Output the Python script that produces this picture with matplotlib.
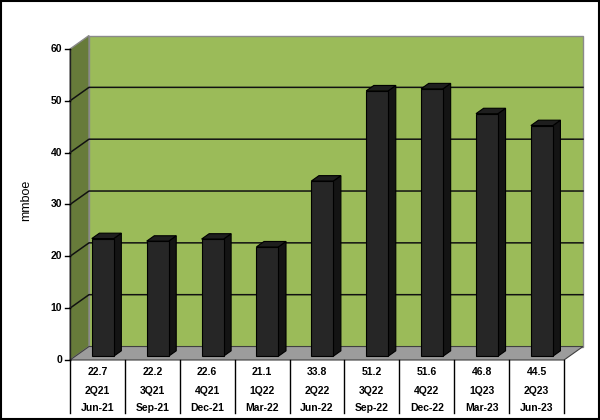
import numpy as np
import matplotlib.pyplot as plt
from matplotlib.patches import Polygon, Rectangle

plt.rcParams['font.family'] = ['Liberation Sans', 'DejaVu Sans']

# data
values = [22.7, 22.2, 22.6, 21.1, 33.8, 51.2, 51.6, 46.8, 44.5]
quarters = ['2Q21', '3Q21', '4Q21', '1Q22', '2Q22', '3Q22', '4Q22', '1Q23', '2Q23']
months = ['Jun-21', 'Sep-21', 'Dec-21', 'Mar-22', 'Jun-22', 'Sep-22', 'Dec-22', 'Mar-23', 'Jun-23']
y_ticks = [0, 10, 20, 30, 40, 50, 60]

n = len(values)
ymax = 60
DX, DY = 0.346, 2.6        # depth offset of the 3d box (data units)
f0, bd = 0.28, 0.4         # bar front depth fraction, bar depth fraction
bw = 0.40                  # bar width

wall = '#9bbb59'
side = '#677b3a'
floor = '#9c9c9c'

fig = plt.figure(figsize=(6, 4.2), dpi=100)
ax = fig.add_axes([0, 0, 1, 1])
ax.set_xlim(-1.7753, 9.1559)
ax.set_ylim(-11.576, 69.453)
ax.axis('off')

x0, x1 = -0.5, n - 0.5

# back wall
ax.add_patch(Polygon([(x0 + DX, DY), (x1 + DX, DY), (x1 + DX, ymax + DY), (x0 + DX, ymax + DY)],
                     closed=True, facecolor=wall, edgecolor='#8a8a8a', lw=1, zorder=1))
# side wall
ax.add_patch(Polygon([(x0, 0), (x0 + DX, DY), (x0 + DX, ymax + DY), (x0, ymax)],
                     closed=True, facecolor=side, edgecolor='#8a8a8a', lw=1, zorder=1))
# gridlines (top one is just the wall edge)
for t in y_ticks[1:-1]:
    ax.plot([x0, x0 + DX, x1 + DX], [t, t + DY, t + DY], color='#111111', lw=1.1, zorder=2)
# floor
ax.add_patch(Polygon([(x0, 0), (x1, 0), (x1 + DX, DY), (x0 + DX, DY)],
                     closed=True, facecolor=floor, edgecolor='#404040', lw=0.8, zorder=3))

# bars
xs = np.arange(n) + f0 * DX
base = f0 * DY
ax.bar(xs, values, width=bw, bottom=base, color='#262626', edgecolor='black', lw=0.8, zorder=5)
for x, v in zip(xs, values):
    xl, xr, top = x - bw / 2, x + bw / 2, v + base
    ax.add_patch(Polygon([(xr, base), (xr + bd * DX, base + bd * DY), (xr + bd * DX, top + bd * DY), (xr, top)],
                         closed=True, facecolor='#141414', edgecolor='black', lw=0.8, zorder=4))
    ax.add_patch(Polygon([(xl, top), (xr, top), (xr + bd * DX, top + bd * DY), (xl + bd * DX, top + bd * DY)],
                         closed=True, facecolor='#1e1e1e', edgecolor='black', lw=0.8, zorder=4))

# y axis
ax.plot([x0, x0], [0, ymax], color='#222222', lw=1, zorder=3)
for t in y_ticks:
    ax.plot([x0 - 0.09, x0], [t, t], color='black', lw=1, zorder=3)
    ax.text(x0 - 0.146, t, str(t), ha='right', va='center', fontsize=7.5, fontweight='bold')
ax.text(-1.30, 30.87, 'mmboe', rotation=90, ha='center', va='center', fontsize=9)

# data table
for k in range(n + 1):
    ax.plot([x0 + k, x0 + k], [0, -10.2], color='black', lw=1, zorder=3)
for i in range(n):
    ax.text(i, -2.26, f'{values[i]:.1f}', ha='center', va='center', fontsize=7.5, fontweight='bold')
    ax.text(i, -5.92, quarters[i], ha='center', va='center', fontsize=7.5, fontweight='bold')
    ax.text(i, -9.32, months[i], ha='center', va='center', fontsize=7.5, fontweight='bold')

# outer frame
fig.patches.append(Rectangle((0.002, 0.003), 0.996, 0.994, transform=fig.transFigure,
                             fill=False, edgecolor='black', lw=1.5))

fig.savefig('out.png', dpi=100)
